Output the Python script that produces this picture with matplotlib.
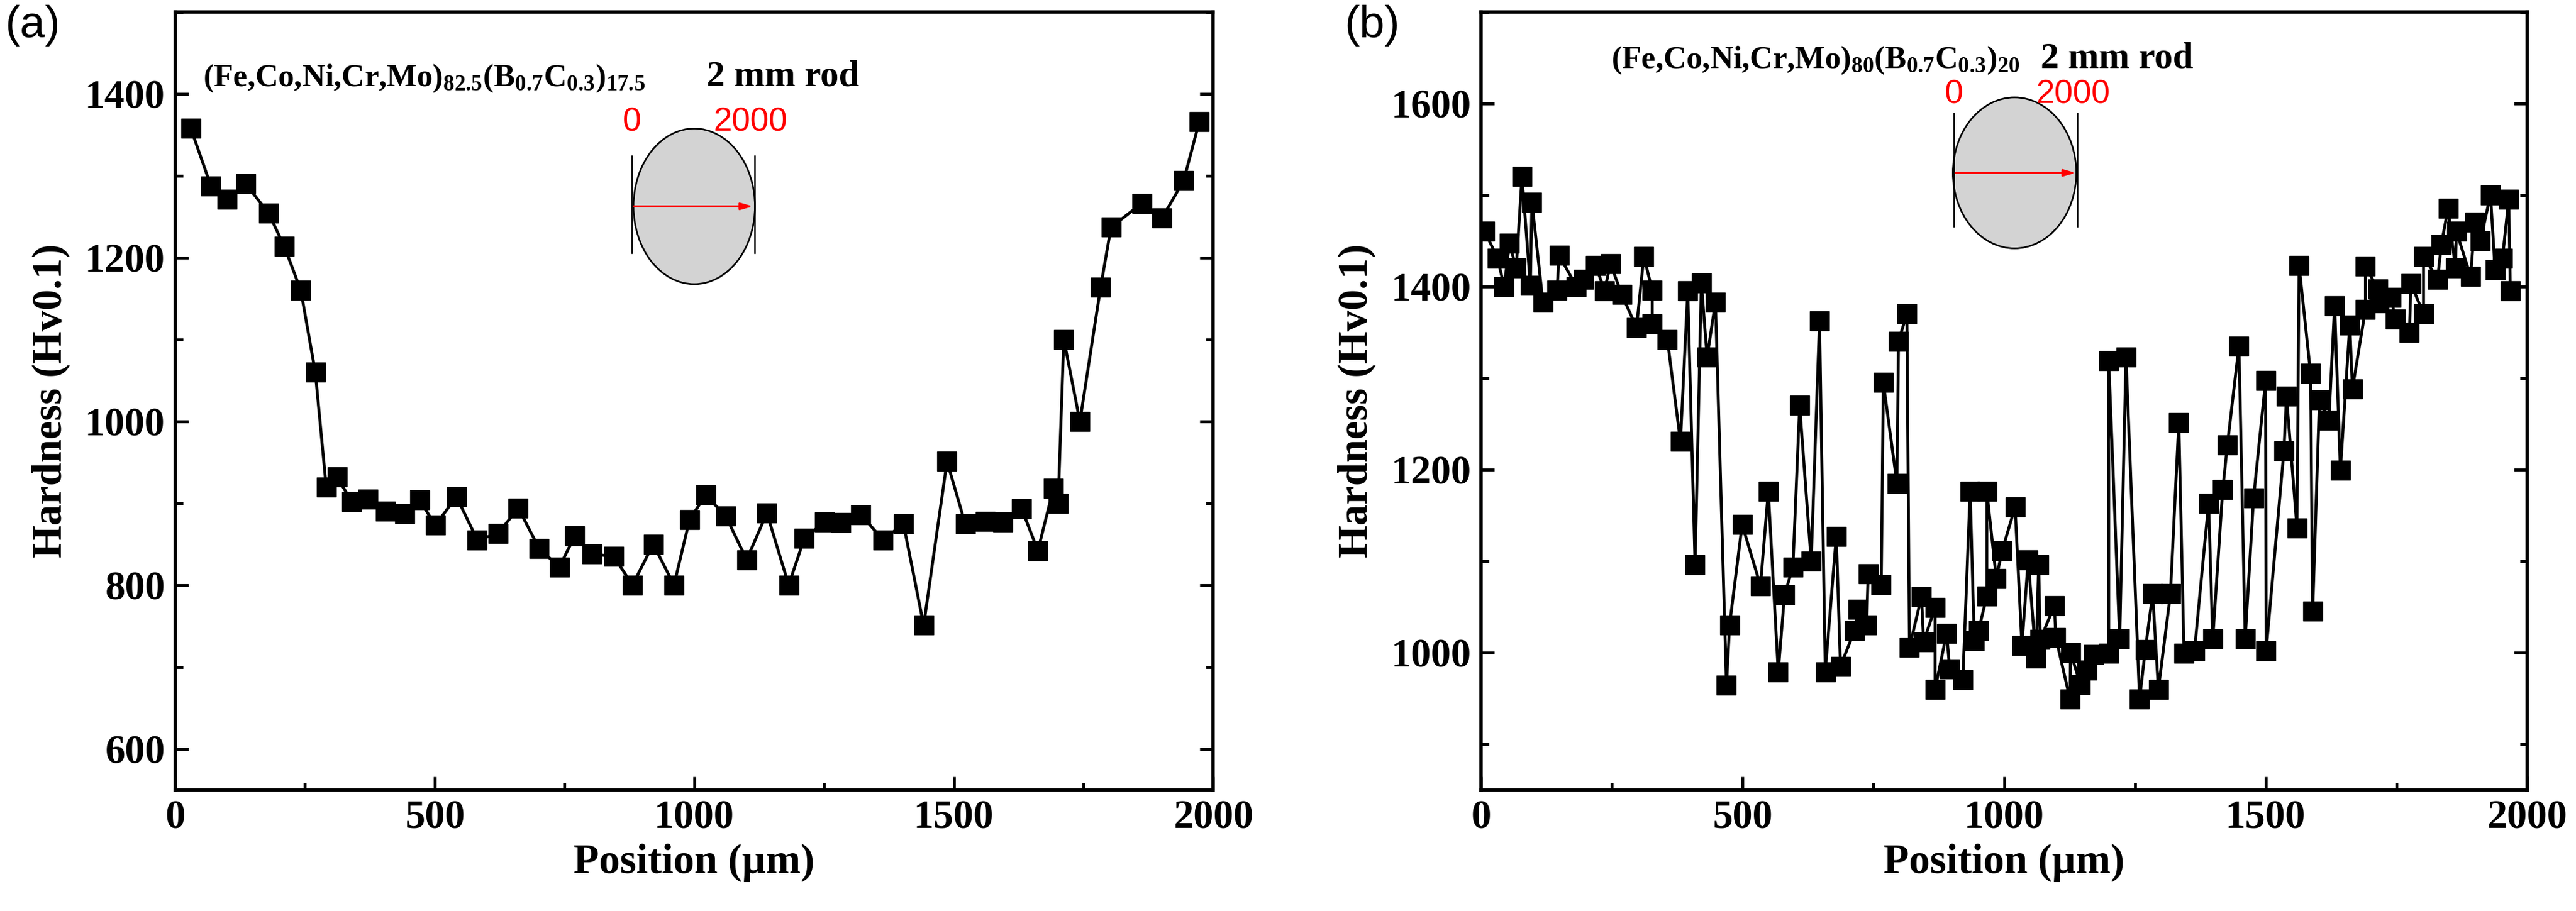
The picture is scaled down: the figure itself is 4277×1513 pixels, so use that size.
import matplotlib
matplotlib.use("Agg")
import matplotlib.pyplot as plt
from matplotlib.patches import Ellipse
from matplotlib.ticker import MultipleLocator

pos_a = [30,69,100,136,180,210,242,270,291,312,340,371,405,442,471,501,542,582,622,661,701,740,770,803,845,881,921,961,991,1022,1061,1101,1140,1182,1212,1251,1282,1321,1364,1403,1442,1487,1522,1561,1594,1631,1662,1692,1701,1712,1743,1783,1803,1862,1901,1943,1973]
hv_a = [1358,1287,1271,1290,1254,1214,1160,1060,920,932,902,905,890,887,904,873,908,855,863,894,845,822,860,838,835,800,850,800,880,910,884,831,888,800,857,877,876,886,855,875,751,951,875,878,877,893,842,918,900,1100,1000,1164,1237,1266,1248,1294,1366]

pos_b = [7,31,44,54,67,78,94,97,118,145,149,182,195,219,236,247,269,297,311,327,327,356,381,395,409,421,432,448,469,475,499,534,549,568,580,596,609,631,647,658,679,687,714,721,737,740,765,769,795,798,814,819,842,846,868,868,890,896,921,935,943,951,967,967,985,996,1021,1034,1046,1061,1066,1069,1096,1099,1126,1127,1146,1158,1171,1200,1200,1221,1233,1259,1270,1284,1295,1318,1334,1344,1364,1391,1399,1418,1427,1449,1461,1477,1500,1501,1535,1540,1560,1564,1586,1590,1603,1621,1632,1643,1661,1666,1691,1691,1715,1717,1740,1748,1775,1778,1802,1802,1829,1836,1849,1863,1865,1892,1900,1911,1930,1939,1953,1965,1968]
hv_b = [1460,1431,1400,1447,1420,1520,1401,1492,1383,1396,1434,1400,1408,1423,1395,1425,1391,1355,1433,1396,1359,1342,1231,1395,1096,1404,1323,1383,964,1030,1140,1073,1176,979,1063,1093,1270,1100,1362,979,1127,985,1024,1047,1030,1086,1074,1295,1185,1340,1370,1006,1061,1012,1049,960,1021,982,970,1176,1013,1024,1062,1176,1081,1111,1159,1008,1101,994,1096,1014,1051,1016,949,1000,965,981,998,999,1319,1015,1323,949,1003,1064,960,1064,1251,999,1002,1163,1015,1178,1227,1335,1015,1169,1297,1002,1220,1280,1136,1423,1305,1045,1276,1254,1379,1199,1358,1288,1375,1422,1397,1382,1388,1364,1350,1403,1370,1433,1408,1446,1485,1420,1460,1411,1470,1450,1500,1418,1431,1495,1395]

plt.rcParams['mathtext.fontset'] = 'custom'
plt.rcParams['mathtext.rm'] = 'Liberation Serif:bold'
plt.rcParams['mathtext.bf'] = 'Liberation Serif:bold'
plt.rcParams['mathtext.it'] = 'Liberation Serif:bold'

fig = plt.figure(figsize=(42.77, 15.13), dpi=100)
ax_a = fig.add_axes([0.068, 0.133, 0.403, 0.854])
ax_b = fig.add_axes([0.575, 0.133, 0.406, 0.854])

serif = dict(family='Liberation Serif', weight='bold')

def style(ax, ylim, ymaj, ymin):
    ax.set_xlim(0, 2000)
    ax.set_ylim(*ylim)
    ax.xaxis.set_major_locator(MultipleLocator(500))
    ax.xaxis.set_minor_locator(MultipleLocator(250))
    ax.yaxis.set_major_locator(MultipleLocator(ymaj))
    ax.yaxis.set_minor_locator(MultipleLocator(ymin))
    ax.tick_params(which='both', direction='in', right=True, top=False, width=3.5)
    ax.tick_params(which='major', length=16, labelsize=48, pad=12)
    ax.tick_params(which='minor', length=9)
    for lab in ax.get_xticklabels() + ax.get_yticklabels():
        lab.set_fontfamily('Liberation Serif'); lab.set_fontweight('bold')
    for s in ax.spines.values():
        s.set_linewidth(4)
    ax.set_xlabel('Position (μm)', fontsize=50, labelpad=8, **serif)
    ax.set_ylabel('Hardness (Hv0.1)', fontsize=50, labelpad=18, **serif)

def inset(ax, cx, cy, w, h, x0, x1, ylo, yhi, ty):
    ax.add_patch(Ellipse((cx, cy), w, h, transform=ax.transAxes, facecolor='#d3d3d3', edgecolor='black', lw=2, zorder=1))
    for xx in (x0, x1):
        ax.plot([xx, xx], [ylo, yhi], transform=ax.transAxes, color='black', lw=1.8)
    ax.annotate('', xy=(x1, cy), xytext=(x0, cy), xycoords='axes fraction',
                arrowprops=dict(arrowstyle='-|>,head_length=1.2,head_width=0.35', color='red', lw=2.2))
    ax.text(x0, ty, '0', transform=ax.transAxes, color='red', fontsize=40, family='Liberation Sans', ha='center', va='center')
    ax.text(x1 - 0.004, ty, '2000', transform=ax.transAxes, color='red', fontsize=40, family='Liberation Sans', ha='center', va='center')

ax_a.plot(pos_a, hv_a, color='black', lw=3.5, marker='s', markersize=23, zorder=3)
style(ax_a, (550, 1500), 200, 100)
inset(ax_a, 0.5, 0.75, 0.117, 0.2, 0.44, 0.558, 0.69, 0.815, 0.858)
ax_a.text(0.027, 0.905, r'$\mathrm{(Fe{,}Co{,}Ni{,}Cr{,}Mo)_{82.5}(B_{0.7}C_{0.3})_{17.5}}$', transform=ax_a.transAxes, fontsize=38, va='baseline')
ax_a.text(0.512, 0.905, '2 mm rod', transform=ax_a.transAxes, fontsize=44, va='baseline', **serif)

ax_b.plot(pos_b, hv_b, color='black', lw=3.5, marker='s', markersize=23, zorder=3)
style(ax_b, (850, 1700), 200, 100)
inset(ax_b, 0.51, 0.793, 0.118, 0.194, 0.452, 0.57, 0.724, 0.87, 0.893)
ax_b.text(0.124, 0.928, r'$\mathrm{(Fe{,}Co{,}Ni{,}Cr{,}Mo)_{80}(B_{0.7}C_{0.3})_{20}}$', transform=ax_b.transAxes, fontsize=38, va='baseline')
ax_b.text(0.535, 0.928, '2 mm rod', transform=ax_b.transAxes, fontsize=44, va='baseline', **serif)

fig.text(0.002, 0.972, '(a)', fontsize=54, family='Liberation Sans', va='center')
fig.text(0.522, 0.972, '(b)', fontsize=54, family='Liberation Sans', va='center')

fig.savefig('out.png', dpi=100)
